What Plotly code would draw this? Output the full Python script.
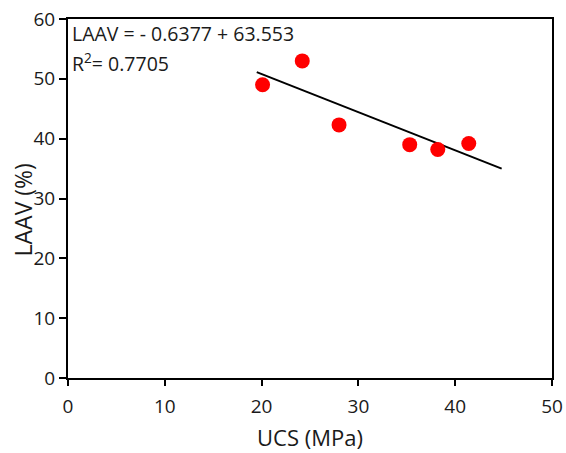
import plotly.graph_objects as go

# Measured samples
ucs_mpa = [20.1, 24.2, 28.0, 35.3, 38.2, 41.4]
laav_pct = [49.0, 53.0, 42.3, 39.0, 38.2, 39.2]

# Linear fit reported on the chart
slope = -0.6377
intercept = 63.553
r_squared = 0.7705
fit_x = [19.5, 44.8]
fit_y = [slope * x + intercept for x in fit_x]

x_ticks = [0, 10, 20, 30, 40, 50]
y_ticks = [0, 10, 20, 30, 40, 50, 60]

FONT = "Open Sans"
TEXT = "#1a1a1a"

fig = go.Figure()
fig.add_trace(go.Scatter(
    x=fit_x, y=fit_y, mode="lines",
    line=dict(color="black", width=2), showlegend=False,
))
fig.add_trace(go.Scatter(
    x=ucs_mpa, y=laav_pct, mode="markers",
    marker=dict(color="#ff0000", size=15, line=dict(width=0)), showlegend=False,
))

axis_common = dict(
    showline=True, linecolor="black", linewidth=2, mirror=True,
    ticks="outside", tickwidth=2, tickcolor="black",
    showgrid=False, zeroline=False, automargin=False,
    tickfont=dict(family=FONT, size=19, color=TEXT),
)
fig.update_xaxes(range=[0, 50], tickvals=x_ticks, ticklen=6,
                 ticklabelstandoff=4, **axis_common)
fig.update_yaxes(range=[0, 60], tickvals=y_ticks, ticklen=7, **axis_common)

fig.add_annotation(
    text=f"LAAV = - {abs(slope)} + {intercept}",
    xref="paper", yref="paper", x=0.004, y=0.961,
    xanchor="left", yanchor="middle", showarrow=False,
    font=dict(family=FONT, size=19.5, color=TEXT),
)
fig.add_annotation(
    text=f"R<sup>2</sup>= {r_squared}",
    xref="paper", yref="paper", x=0.004, y=0.878,
    xanchor="left", yanchor="middle", showarrow=False,
    font=dict(family=FONT, size=19.5, color=TEXT),
)
fig.add_annotation(
    text="UCS (MPa)", xref="paper", yref="paper", x=0.5, y=-0.163,
    xanchor="center", yanchor="middle", showarrow=False,
    font=dict(family=FONT, size=22, color=TEXT),
)
fig.add_annotation(
    text="LAAV (%)", xref="paper", yref="paper", x=-0.092, y=0.468,
    xanchor="center", yanchor="middle", showarrow=False, textangle=-90,
    font=dict(family=FONT, size=23, color=TEXT),
)

fig.update_layout(
    width=566, height=453,
    margin=dict(l=68, r=14, t=19, b=75),
    paper_bgcolor="white", plot_bgcolor="white",
)
fig.write_html("out.html")
